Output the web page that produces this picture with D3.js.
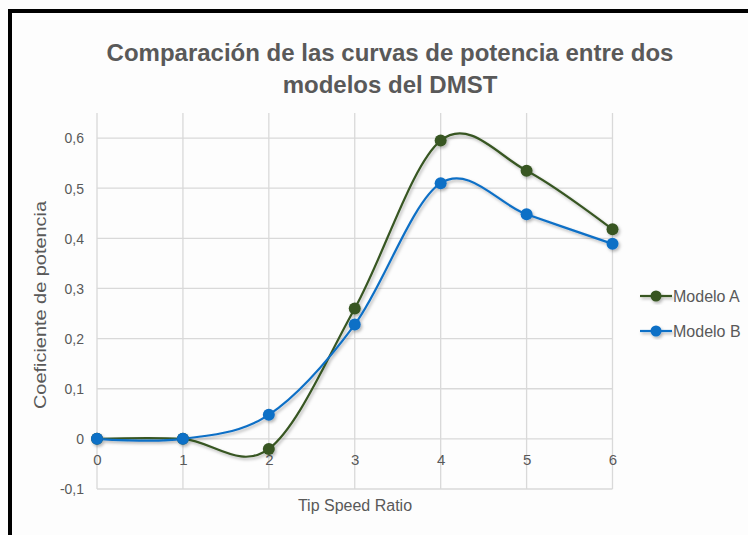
<!DOCTYPE html>
<html>
<head>
<meta charset="utf-8">
<script src="https://cdn.jsdelivr.net/npm/d3@7"></script>
<style>
  html, body { margin: 0; padding: 0; background: #ffffff; }
  svg { display: block; font-family: "Liberation Sans", Arial, sans-serif; }
</style>
</head>
<body>
<svg id="chart" width="748" height="535"></svg>
<script>
// Tip speed ratio values (x axis)
const tsr = [0, 1, 2, 3, 4, 5, 6];
// Power coefficient for each DMST model
const modeloA = [0, 0, -0.02, 0.26, 0.595, 0.535, 0.418];
const modeloB = [0, 0, 0.048, 0.228, 0.51, 0.448, 0.389];
const seriesNames = ["Modelo A", "Modelo B"];
const seriesColors = ["#375623", "#0f6fc6"];
const yTicks = [-0.1, 0, 0.1, 0.2, 0.3, 0.4, 0.5, 0.6];
const titleLines = ["Comparación de las curvas de potencia entre dos", "modelos del DMST"];

const svg = d3.select("#chart");
const textColor = "#595959";
const gridColor = "#d9d9d9";

// chart background and frame
svg.append("rect").attr("x", 0).attr("y", 0).attr("width", 748).attr("height", 535).attr("fill", "#fdfdfd");
svg.append("rect").attr("x", 8).attr("y", 9).attr("width", 740).attr("height", 4).attr("fill", "#000");
svg.append("rect").attr("x", 8).attr("y", 9).attr("width", 4).attr("height", 526).attr("fill", "#000");

const x = d3.scaleLinear().domain([0, 6]).range([97, 612.5]);
const y = d3.scaleLinear().domain([-0.1, 0.65]).range([489, 113]);

const defs = svg.append("defs");
const shadow = defs.append("filter").attr("id", "shadow")
  .attr("x", "-10%").attr("y", "-10%").attr("width", "130%").attr("height", "140%");
shadow.append("feDropShadow").attr("dx", 1.5).attr("dy", 2).attr("stdDeviation", 1.6)
  .attr("flood-color", "#000").attr("flood-opacity", 0.28);

// gridlines
const grid = svg.append("g");
grid.selectAll("line.h").data(yTicks).join("line")
  .attr("x1", x(0)).attr("x2", x(6))
  .attr("y1", d => y(d)).attr("y2", d => y(d))
  .attr("stroke", gridColor).attr("stroke-width", 1.3);
grid.selectAll("line.v").data(tsr).join("line")
  .attr("x1", d => x(d)).attr("x2", d => x(d))
  .attr("y1", y(0.65)).attr("y2", y(-0.1))
  .attr("stroke", gridColor).attr("stroke-width", 1.3);

// y axis tick labels (comma decimal, plain hyphen for negatives)
const yAxis = svg.append("g").attr("transform", `translate(${x(0) - 13},0)`)
  .call(d3.axisLeft(y).tickValues(yTicks).tickSize(0).tickPadding(0)
    .tickFormat(d => d3.format(".1~f")(d).replace(".", ",").replace("\u2212", "-")));
yAxis.select(".domain").remove();
yAxis.selectAll("text").attr("fill", textColor).attr("font-size", 14)
  .attr("font-family", "Liberation Sans, Arial, sans-serif").attr("dy", "0.35em");

// x axis tick labels sit just under the zero line
const xAxis = svg.append("g").attr("transform", `translate(0,${y(0) + 15})`)
  .call(d3.axisBottom(x).tickValues(tsr).tickSize(0).tickPadding(0).tickFormat(d3.format("d")));
xAxis.select(".domain").remove();
xAxis.selectAll("text").attr("fill", textColor).attr("font-size", 15)
  .attr("font-family", "Liberation Sans, Arial, sans-serif").attr("dy", "0.71em");

// series
const data = [modeloA, modeloB];
const line = d3.line().x((d, i) => x(tsr[i])).y(d => y(d)).curve(d3.curveCardinal.tension(0));
const plot = svg.append("g").attr("filter", "url(#shadow)");
data.forEach((vals, s) => {
  plot.append("path").datum(vals).attr("d", line)
    .attr("fill", "none").attr("stroke", seriesColors[s]).attr("stroke-width", 2.2);
});
data.forEach((vals, s) => {
  plot.selectAll(null).data(vals).join("circle")
    .attr("cx", (d, i) => x(tsr[i])).attr("cy", d => y(d)).attr("r", 6)
    .attr("fill", seriesColors[s]);
});

// title
svg.append("g").selectAll("text").data(titleLines).join("text")
  .attr("x", 390).attr("y", (d, i) => 61 + i * 32)
  .attr("text-anchor", "middle").attr("font-size", 24).attr("font-weight", "bold")
  .attr("fill", textColor).text(d => d);

// axis titles
svg.append("text").attr("x", 355).attr("y", 511).attr("text-anchor", "middle")
  .attr("font-size", 16).attr("fill", textColor).text("Tip Speed Ratio");
svg.append("text").attr("transform", "translate(46,305) rotate(-90)")
  .attr("text-anchor", "middle").attr("font-size", 17).attr("fill", textColor)
  .attr("textLength", 208).attr("lengthAdjust", "spacingAndGlyphs")
  .text("Coeficiente de potencia");

// legend
const legend = svg.append("g");
seriesNames.forEach((name, s) => {
  const ly = 296 + s * 35;
  const g = legend.append("g").attr("filter", "url(#shadow)");
  g.append("line").attr("x1", 640).attr("x2", 672).attr("y1", ly).attr("y2", ly)
    .attr("stroke", seriesColors[s]).attr("stroke-width", 2.2);
  g.append("circle").attr("cx", 656).attr("cy", ly).attr("r", 5.5).attr("fill", seriesColors[s]);
  legend.append("text").attr("x", 673).attr("y", ly).attr("dy", "0.35em")
    .attr("font-size", 16).attr("fill", textColor).text(name);
});
</script>
</body>
</html>
